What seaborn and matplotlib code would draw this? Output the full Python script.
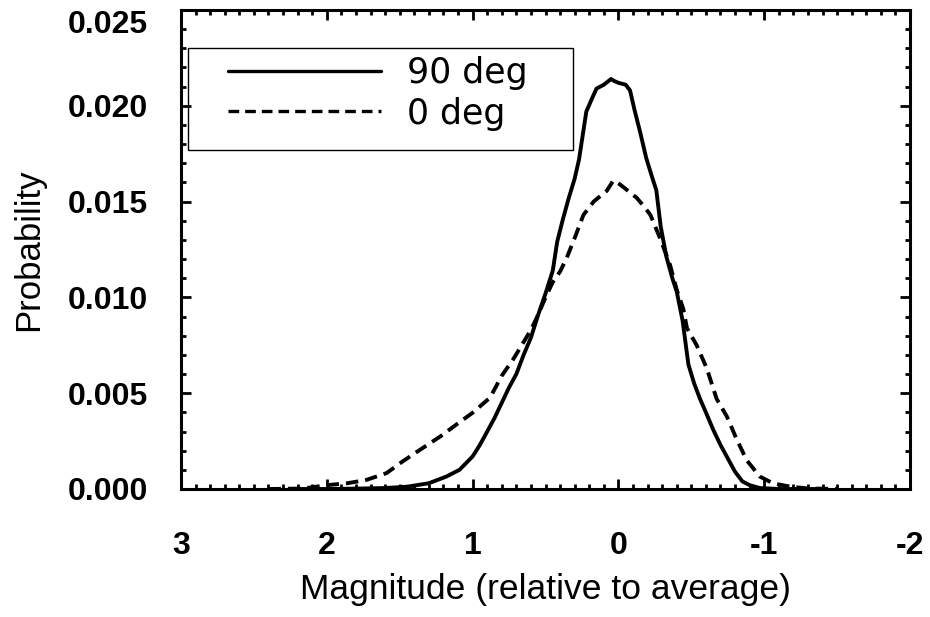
import matplotlib
matplotlib.use("Agg")
import matplotlib.pyplot as plt
from matplotlib.patches import Rectangle
from matplotlib.ticker import MultipleLocator
import seaborn as sns
import pandas as pd

# ---- data ----
mag_90 = [2.2, 2.0, 1.8, 1.6, 1.45, 1.3, 1.18, 1.09, 1.0, 0.95, 0.9, 0.85, 0.8,
          0.75, 0.7, 0.65, 0.6, 0.55, 0.5, 0.45, 0.42, 0.38, 0.34, 0.3, 0.27,
          0.25, 0.22, 0.18, 0.15, 0.1, 0.05, 0.03, 0.0, -0.05, -0.08, -0.11,
          -0.15, -0.19, -0.23, -0.26, -0.29, -0.33, -0.37, -0.4, -0.44, -0.48,
          -0.52, -0.56, -0.6, -0.65, -0.7, -0.75, -0.8, -0.85, -0.9, -0.97,
          -1.1, -1.4]
prob_90 = [0.0, 0.0, 0.00002, 0.00005, 0.00012, 0.0003, 0.00065, 0.0010,
           0.0017, 0.0023, 0.0030, 0.0037, 0.0045, 0.0053, 0.0060, 0.0070,
           0.0079, 0.0091, 0.0102, 0.0114, 0.0129, 0.0141, 0.0152, 0.0162,
           0.0172, 0.0182, 0.0197, 0.0204, 0.0209, 0.0211, 0.0214, 0.0213,
           0.0212, 0.0211, 0.0208, 0.0198, 0.0186, 0.0173, 0.0163, 0.0156,
           0.0137, 0.0121, 0.0110, 0.0103, 0.0088, 0.0065, 0.0055, 0.0047,
           0.0040, 0.0031, 0.0023, 0.0016, 0.0009, 0.0004, 0.0002, 0.00005,
           0.0, 0.0]

mag_0 = [2.4, 2.2, 2.14, 2.0, 1.86, 1.73, 1.59, 1.48, 1.36, 1.22, 1.11, 1.0,
         0.88, 0.8, 0.72, 0.65, 0.6, 0.55, 0.5, 0.45, 0.4, 0.355, 0.3, 0.24,
         0.17, 0.08, 0.035, -0.01, -0.06, -0.125, -0.17, -0.22, -0.285,
         -0.354, -0.4, -0.445, -0.47, -0.537, -0.606, -0.674, -0.743, -0.811,
         -0.88, -0.97, -1.06, -1.18, -1.3, -1.5]
prob_0 = [0.0, 0.00002, 0.00005, 0.0002, 0.0003, 0.00047, 0.00083, 0.00144,
          0.00205, 0.00275, 0.00337, 0.00398, 0.00477, 0.00591, 0.00679,
          0.00767, 0.0083, 0.0091, 0.0100, 0.0108, 0.01135, 0.01205, 0.0131,
          0.0143, 0.0150, 0.01556, 0.0161, 0.0159, 0.0156, 0.0152, 0.0148,
          0.0143, 0.0131, 0.0117, 0.0104, 0.0094, 0.0084, 0.0075, 0.0063,
          0.0047, 0.0038, 0.0026, 0.0015, 0.00065, 0.0003, 0.00012, 0.00003,
          0.0]

series_labels = ["90 deg", "0 deg"]
x_ticks = [3, 2, 1, 0, -1, -2]
x_ticklabels = ["3", "2", "1", "0", "-1", "-2"]
y_ticks = [0.000, 0.005, 0.010, 0.015, 0.020, 0.025]
y_ticklabels = ["0.000", "0.005", "0.010", "0.015", "0.020", "0.025"]

df90 = pd.DataFrame({"mag": mag_90, "prob": prob_90})
df0 = pd.DataFrame({"mag": mag_0, "prob": prob_0})

# ---- style ----
sns.set_theme(style="ticks")
plt.rcParams["font.family"] = ["Liberation Sans", "DejaVu Sans"]
plt.rcParams["axes.unicode_minus"] = False

W, H = 930, 617
fig = plt.figure(figsize=(W / 100, H / 100), dpi=100)
fig.patch.set_facecolor("white")
ax_l, ax_r, ax_t, ax_b = 181, 910, 10, 489
ax = fig.add_axes([ax_l / W, 1 - ax_b / H, (ax_r - ax_l) / W, (ax_b - ax_t) / H])
ax.set_facecolor("white")

lw = 2.8
sns.lineplot(data=df90, x="mag", y="prob", ax=ax, color="black", linewidth=lw,
             estimator=None, errorbar=None, sort=False, label=series_labels[0])
sns.lineplot(data=df0, x="mag", y="prob", ax=ax, color="black", linewidth=lw,
             estimator=None, errorbar=None, sort=False, label=series_labels[1],
             dashes=False)
ax.lines[1].set_dashes((3.2, 1.8))

ax.set_xlim(3, -2)
ax.set_ylim(0, 0.025)

ax.set_xticks(x_ticks)
ax.set_xticklabels(x_ticklabels)
ax.set_yticks(y_ticks)
ax.set_yticklabels(y_ticklabels)
ax.xaxis.set_minor_locator(MultipleLocator(0.1))
ax.yaxis.set_minor_locator(MultipleLocator(0.001))

for s in ax.spines.values():
    s.set_linewidth(2.2)
    s.set_color("black")
    s.set_visible(True)

ax.tick_params(axis="both", which="both", direction="in", top=True, right=True,
               color="black", width=2.0)
ax.tick_params(axis="both", which="major", length=7.5)
ax.tick_params(axis="both", which="minor", length=3.8)
ax.tick_params(axis="x", which="major", pad=30, labelsize=23)
ax.tick_params(axis="y", which="major", pad=24, labelsize=23)
for t in ax.get_xticklabels() + ax.get_yticklabels():
    t.set_fontweight("bold")
    t.set_color("black")
ax.get_yticklabels()[-1].set_verticalalignment("top")

ax.set_xlabel("Magnitude (relative to average)", fontsize=25.5, color="black",
              labelpad=9)
ax.set_ylabel("Probability", fontsize=25, color="black", labelpad=16)

# legend
leg_fs = 25
leg = ax.legend(loc="upper left", bbox_to_anchor=((228 - ax_l) / (ax_r - ax_l),
                                                  (ax_b - 56) / (ax_b - ax_t)),
                frameon=False, borderpad=0, borderaxespad=0,
                handlelength=4.4, handletextpad=0.75, labelspacing=0.19,
                labelcolor="black",
                prop={"family": "DejaVu Sans", "size": leg_fs})
for h in leg.get_lines():
    h.set_linewidth(2.4)

bx0, by0, bx1, by1 = 188, 48, 573, 150
ax.add_patch(Rectangle(((bx0 - ax_l) / (ax_r - ax_l), (ax_b - by1) / (ax_b - ax_t)),
                       (bx1 - bx0) / (ax_r - ax_l), (by1 - by0) / (ax_b - ax_t),
                       transform=ax.transAxes, fill=False, edgecolor="black",
                       linewidth=1.0, zorder=5))

fig.savefig("out.png", dpi=100, facecolor="white")
